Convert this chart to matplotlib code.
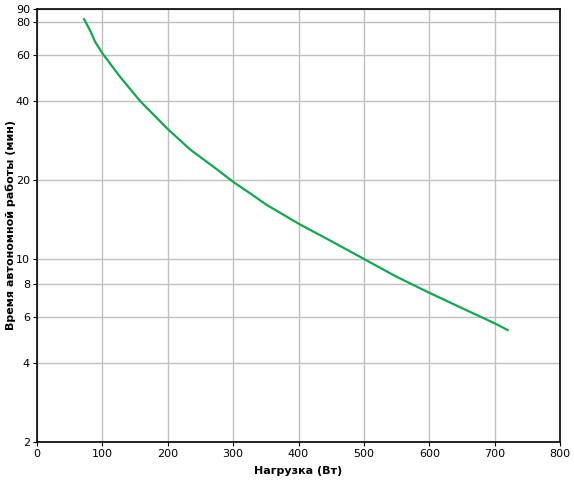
import numpy as np
import matplotlib.pyplot as plt
from matplotlib.ticker import FixedLocator, NullLocator

# Runtime curve
load_w = [72, 81, 89, 100, 127, 158, 199, 234, 275, 300, 326, 351, 402,
          450, 500, 550, 600, 650, 700, 720]
runtime_min = [82.3, 74.7, 67.4, 61.0, 49.6, 40.0, 31.5, 26.2, 22.0, 19.7, 17.8, 16.1,
               13.55, 11.7, 10.0, 8.55, 7.43, 6.49, 5.68, 5.35]

y_ticks = [2, 4, 6, 8, 10, 20, 40, 60, 80, 90]
x_ticks = [0, 100, 200, 300, 400, 500, 600, 700, 800]

plt.rcParams['font.family'] = ['DejaVu Sans']

fig = plt.figure(figsize=(5.74, 4.86), dpi=100)
ax = fig.add_axes([37 / 574, 1 - 442 / 486, (560 - 37) / 574, (442 - 9) / 486])

ax.plot(load_w, runtime_min, color='#12a84f', lw=1.6)

ax.set_yscale('log')
ax.set_xlim(0, 800)
ax.set_ylim(2, 90)
ax.xaxis.set_major_locator(FixedLocator(x_ticks))
ax.yaxis.set_major_locator(FixedLocator(y_ticks))
ax.yaxis.set_minor_locator(NullLocator())
ax.set_yticklabels([str(t) for t in y_ticks])
ax.grid(True, color='#c0c0c0', lw=1)
ax.set_axisbelow(True)
ax.tick_params(direction='out', length=3, labelsize=8, pad=2)
for s in ax.spines.values():
    s.set_linewidth(1.2)

ax.set_xlabel('Нагрузка (Вт)', fontsize=8, fontweight='bold', labelpad=5)
ax.set_ylabel('Время автономной работы (мин)', fontsize=8, fontweight='bold')
ax.yaxis.set_label_coords(-0.040, 0.5)

fig.savefig('out.png', dpi=100)
